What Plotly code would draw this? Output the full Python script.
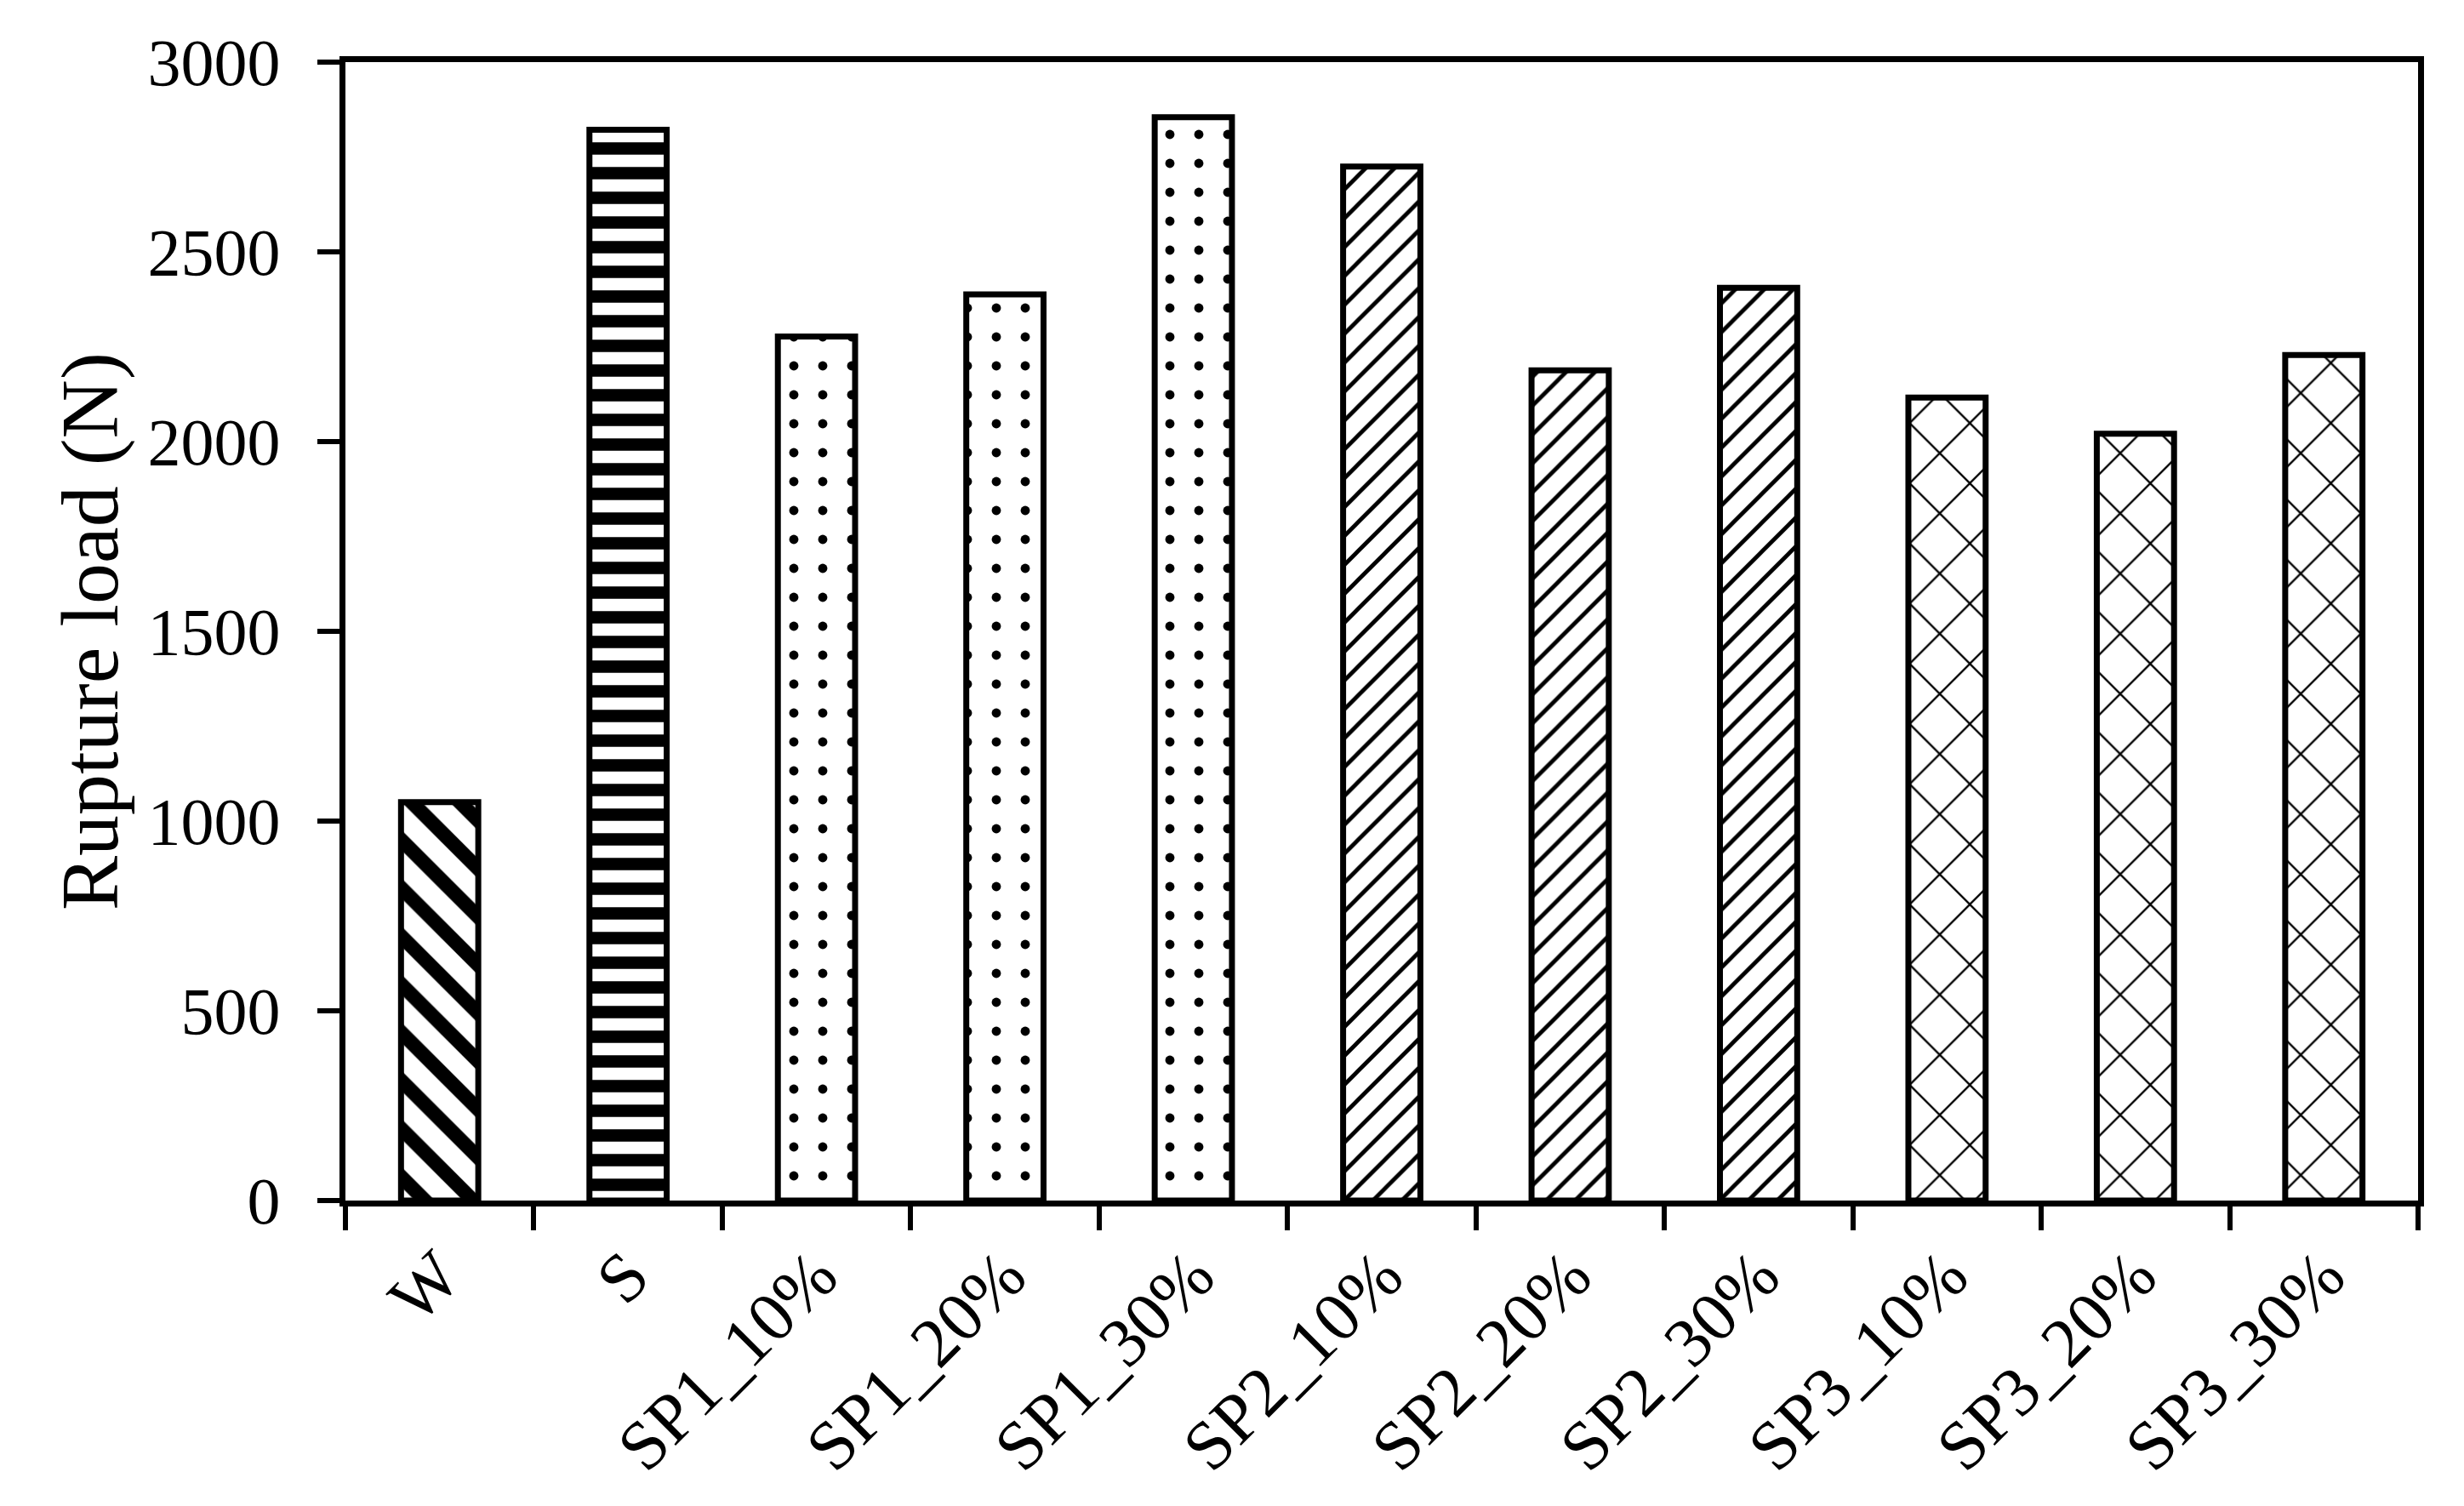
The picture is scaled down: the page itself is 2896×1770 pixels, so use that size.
import plotly.graph_objects as go

# Rupture load per sample
samples = ["W", "S", "SP1_10%", "SP1_20%", "SP1_30%", "SP2_10%", "SP2_20%",
           "SP2_30%", "SP3_10%", "SP3_20%", "SP3_30%"]
rupture_load = [1050, 2822, 2277, 2388, 2855, 2725, 2188, 2405, 2116, 2021, 2228]
y_ticks = [0, 500, 1000, 1500, 2000, 2500, 3000]

# Hatch style per bar (shape, tile size, solidity)
hatch_shape = ["\\", "-", ".", ".", ".", "/", "/", "/", "x", "x", "x"]
hatch_size = [40, 29, 34, 34, 34, 24, 24, 24, 50, 50, 50]
hatch_solid = [0.42, 0.5, 0.08, 0.08, 0.08, 0.2, 0.2, 0.2, 0.09, 0.09, 0.09]

FONT = "Liberation Serif"

fig = go.Figure(go.Bar(
    x=samples,
    y=rupture_load,
    width=0.41,
    marker=dict(
        color="white",
        line=dict(color="black", width=7),
        pattern=dict(
            shape=hatch_shape,
            size=hatch_size,
            solidity=hatch_solid,
            fgcolor="black",
            fgopacity=1,
            bgcolor="white",
            fillmode="overlay",
        ),
    ),
    showlegend=False,
))

fig.update_layout(
    width=2896,
    height=1770,
    paper_bgcolor="white",
    plot_bgcolor="white",
    font=dict(family=FONT, color="black", size=76),
    margin=dict(l=398, r=62, t=65, b=367, autoexpand=False),
    xaxis=dict(
        type="category",
        showline=True, linecolor="black", linewidth=7, mirror=True,
        ticks="outside", ticklen=28, tickwidth=6, tickcolor="black",
        tickson="boundaries",
        tickangle=-45,
        tickfont=dict(family=FONT, size=82),
        showgrid=False,
        automargin=False,
    ),
    yaxis=dict(
        range=[0, 3000],
        tickvals=y_ticks,
        showline=True, linecolor="black", linewidth=7, mirror=True,
        ticks="outside", ticklen=26, tickwidth=6, tickcolor="black",
        ticklabelstandoff=28,
        tickfont=dict(family=FONT, size=78),
        showgrid=False, zeroline=False,
        title=dict(text="Rupture load (N)", font=dict(family=FONT, size=96), standoff=5),
        automargin=False,
    ),
)

fig.write_html("out.html")
